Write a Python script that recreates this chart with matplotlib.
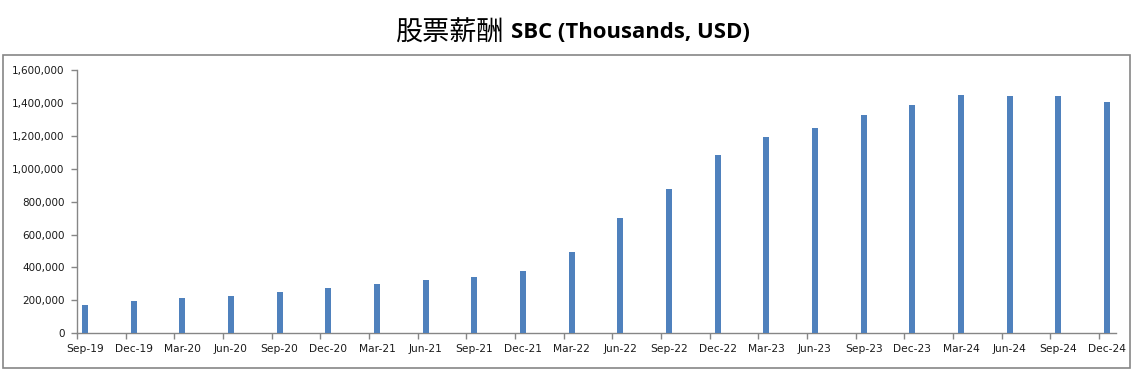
import numpy as np
import matplotlib.pyplot as plt
from matplotlib.patches import Rectangle
from matplotlib.ticker import FuncFormatter, FixedLocator

plt.rcParams['font.family'] = ['DejaVu Sans']

quarters = ['Sep-19', 'Dec-19', 'Mar-20', 'Jun-20', 'Sep-20', 'Dec-20',
            'Mar-21', 'Jun-21', 'Sep-21', 'Dec-21', 'Mar-22', 'Jun-22',
            'Sep-22', 'Dec-22', 'Mar-23', 'Jun-23', 'Sep-23', 'Dec-23',
            'Mar-24', 'Jun-24', 'Sep-24', 'Dec-24']

# stock-based compensation, thousands USD
sbc = [172000, 198000, 217000, 229000, 253000, 277000,
       302000, 326000, 344000, 381000, 496000, 703000,
       879000, 1086000, 1195000, 1250000, 1329000, 1389000,
       1450000, 1444000, 1444000, 1408000]

bar_color = '#4F81BD'
axis_color = '#868686'

fig = plt.figure(figsize=(11.33, 3.73), dpi=100)
ax = fig.add_axes([77 / 1133, 1 - 333.3 / 373, (1115.6 - 77) / 1133, (333.3 - 70) / 373])

x = np.arange(len(quarters))
ax.bar(x + 0.163, sbc, width=0.123, color=bar_color, align='center', zorder=3)

ax.set_xlim(0, 21.34)
ax.set_ylim(0, 1600000)
ax.set_yticks(np.arange(0, 1600001, 200000))
ax.yaxis.set_major_formatter(FuncFormatter(lambda v, p: f'{int(v):,}'))

# tick marks on the category boundaries, labels centred under the bars
ax.xaxis.set_major_locator(FixedLocator(x))
ax.xaxis.set_minor_locator(FixedLocator(x + 0.163))
ax.set_xticklabels([], minor=False)
ax.set_xticklabels(quarters, minor=True)
ax.tick_params(axis='x', which='major', length=4, width=1, color=axis_color, direction='out')
ax.tick_params(axis='x', which='minor', length=0, pad=8, labelsize=7.7, labelcolor='#1a1a1a')
ax.tick_params(axis='y', length=4, width=1, color=axis_color, pad=5,
               labelsize=7.5, labelcolor='#1a1a1a')

for s in ['top', 'right']:
    ax.spines[s].set_visible(False)
for s in ['left', 'bottom']:
    ax.spines[s].set_color(axis_color)
    ax.spines[s].set_linewidth(1)

# outer chart border
fig.patches.append(Rectangle((3 / 1133, 1 - 368 / 373), (1130 - 3) / 1133, (368 - 55) / 373,
                             transform=fig.transFigure, fill=False,
                             edgecolor=axis_color, linewidth=1.2))

fig.text(504 / 1133, 1 - 33 / 373, '股票薪酬', ha='right', va='center', fontsize=19.5,
         family=['Noto Sans CJK SC', 'DejaVu Sans'])
fig.text(511 / 1133, 1 - 33 / 373, 'SBC (Thousands, USD)', ha='left', va='center',
         fontsize=15.9, fontweight='bold', family=['Open Sans', 'DejaVu Sans'])

fig.savefig('out.png', dpi=100)
